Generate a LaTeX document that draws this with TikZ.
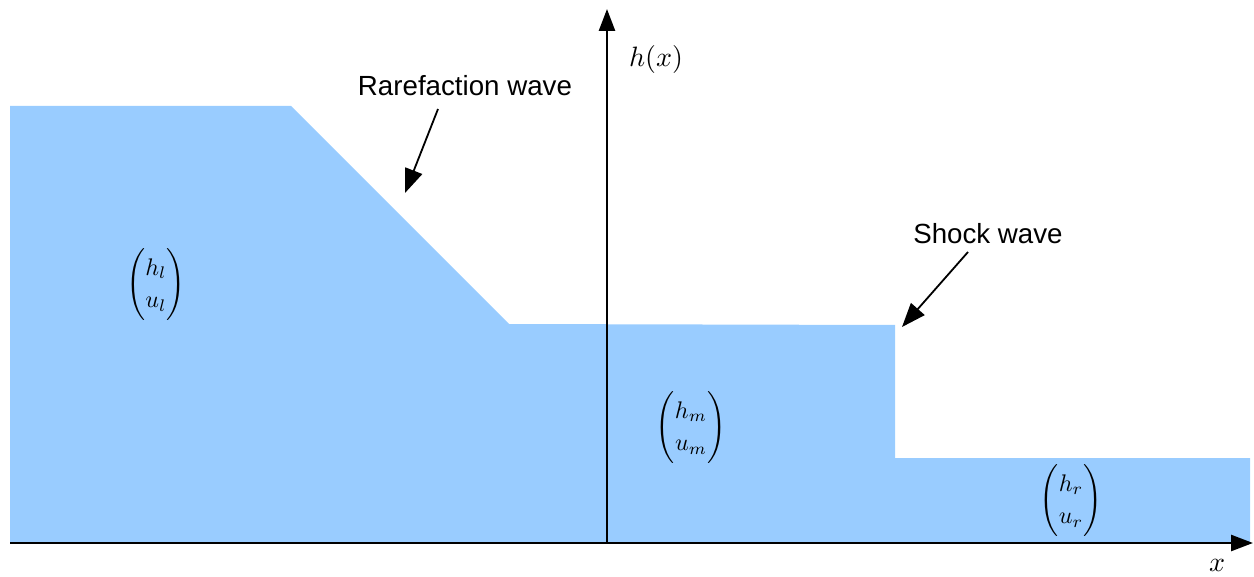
\documentclass[tikz,border=0pt]{standalone}
\usepackage{amsmath}
\usepackage{graphicx}
\usepackage{fontspec}
\setsansfont{Liberation Sans}
\usetikzlibrary{arrows.meta}
\definecolor{water}{HTML}{99CCFF}
\tikzset{
  axis/.style={line width=2.6pt,-{Triangle[length=22pt,width=16pt]}},
  pointer/.style={line width=1.8pt,-{Triangle[length=24pt,width=18pt]}},
  wavelabel/.style={font=\sffamily\fontsize{27.7}{32}\selectfont,inner sep=0pt},
  state/.style={inner sep=0pt}
}
\newcommand{\scaledmath}[2]{\scalebox{#1}{$#2$}}
\newcommand{\statevec}[2]{\scalebox{2.4}{\renewcommand{\arraystretch}{1.12}$\begin{pmatrix}#1\\#2\end{pmatrix}$}}
\begin{document}
\begin{tikzpicture}[x=1pt,y=-1pt]
\useasboundingbox (0,0) rectangle (1254,577);
\fill[water] (10,106) -- (291,106) -- (509,324) -- (895,325) -- (895,458) -- (1250,458) -- (1250,543) -- (10,543) -- cycle;
\coordinate (o) at (10,543);
\coordinate (xend) at (1253,543);
\coordinate (vbase) at (607,543);
\coordinate (vend) at (607,9);
\draw[axis] (o) -- (xend);
\draw[axis] (vbase) -- (vend);
\node[state] (hx) at (656,60) {\scaledmath{2.8}{h(x)}};
\node[state] (xl) at (1217,565) {\scaledmath{2.8}{x}};
\node[wavelabel] (rw) at (465,86) {Rarefaction wave};
\node[wavelabel] (sw) at (988,234) {Shock wave};
\coordinate (rwt) at (405,193);
\coordinate (swt) at (902,327);
\draw[pointer] (438,109) -- (rwt);
\draw[pointer] (968,252) -- (swt);
\node[state] (sl) at (156,285) {\statevec{h_l}{u_l}};
\node[state] (sm) at (691,428) {\statevec{h_m}{u_m}};
\node[state] (sr) at (1071,501) {\statevec{h_r}{u_r}};
\end{tikzpicture}
\end{document}
